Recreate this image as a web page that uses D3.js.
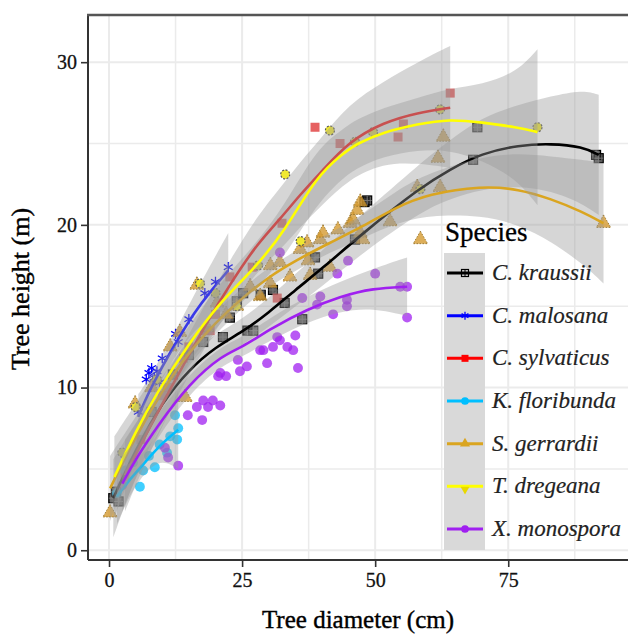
<!DOCTYPE html>
<html>
<head>
<meta charset="utf-8">
<script src="https://cdn.jsdelivr.net/npm/d3@7"></script>
<style>
  body { margin: 0; background: #fff; }
  svg { display: block; font-family: "Liberation Serif", "Times New Roman", serif; }
</style>
</head>
<body>
<svg id="chart" width="628" height="634"></svg>
<script>
// ---- data (diameter cm, height m) ----
var species = ["C. kraussii", "C. malosana", "C. sylvaticus", "K. floribunda", "S. gerrardii", "T. dregeana", "X. monospora"];

var xTicks = [0, 25, 50, 75];
var yTicks = [0, 10, 20, 30];
var xMinor = [12.5, 37.5, 62.5, 87.5];
var yMinor = [5, 15, 25];

var kraussiiPts = [[0.8, 3.2], [1.3, 3.6], [1.8, 3.0], [8, 8.5], [12, 10.8], [15, 12.0], [17.7, 12.8], [21.4, 13.1], [22.7, 14.3], [24, 15.3], [25.2, 15.8], [26, 13.5], [27.1, 13.5], [28.5, 15.7], [30.8, 16.0], [33, 15.2], [36.3, 14.2], [38.7, 18.0], [39.3, 17.0], [46.2, 19.1], [48, 21.4], [48.5, 21.5], [68.4, 24.0], [69.2, 26.0], [91.5, 24.3], [92, 24.1]];
var malosanaPts = [[5.5, 8.5], [7, 10.5], [7.5, 10.9], [8, 11.2], [8.5, 10.6], [9, 11.0], [9.5, 10.3], [10, 11.8], [12.5, 13.3], [13, 12.8], [15, 14.2], [18, 15.8], [20, 16.5], [22.4, 17.4]];
var sylvaticusPts = [[3, 4.5], [6, 6.8], [10, 9.5], [11, 10.0], [14, 11.8], [15, 12.5], [18, 13.5], [19, 13.5], [20, 14.5], [22.7, 16.8], [26.9, 17.4], [31.6, 15.5], [32.5, 20.1], [38.7, 26.0], [43.4, 25.0], [54.3, 25.4], [55.3, 26.2], [64.1, 28.1]];
var floribundaPts = [[1.5, 3.5], [3, 4.9], [4.5, 5.4], [5.8, 3.9], [6.4, 4.9], [7.5, 5.8], [8.6, 5.1], [9.5, 6.5], [10.9, 6.0], [11.5, 7.0], [12.4, 8.3], [12.8, 6.8], [13, 7.5]];
var gerrardiiPts = [[0.2, 2.3], [4.9, 9.0], [8, 10.0], [11.5, 12.5], [13.3, 13.4], [14.3, 9.4], [16.5, 16.3], [18.4, 13.7], [20.3, 15.2], [22, 14.5], [24, 15.0], [26.5, 16.2], [28.4, 15.6], [30.3, 17.5], [30.3, 16.4], [32.1, 17.7], [34, 16.8], [35.9, 18.5], [37.2, 18.9], [37.4, 17.8], [37.8, 16.9], [39.7, 19.1], [40.2, 19.5], [41.5, 17.4], [43, 19.7], [45.3, 20.1], [45.9, 20.3], [46.6, 20.9], [47.2, 19.5], [47.2, 21.4], [47.7, 19.1], [52.8, 20.2], [57.9, 22.3], [58.5, 19.1], [61.8, 24.1], [62.2, 22.3], [62.8, 25.4], [92.9, 20.1]];
var dregeanaPts = [[2.5, 6.0], [5, 8.8], [9, 10.5], [17.1, 16.4], [20, 15.8], [24, 15.0], [28, 17.5], [33.1, 23.1], [36, 19.0], [41.5, 25.8], [46.2, 25.1], [49.6, 25.7], [58.5, 22.2], [62.2, 27.1], [80.5, 26.0]];
var monosporaPts = [[2.5, 4.0], [10.5, 6.3], [11.1, 5.7], [13, 5.2], [14.8, 8.3], [16.5, 8.8], [17.5, 8.0], [17.7, 9.2], [18.6, 8.8], [19.5, 9.2], [20.9, 8.9], [20.5, 10.7], [20.9, 10.9], [22, 10.7], [24.2, 11.7], [24.6, 11.0], [25.9, 11.3], [28.4, 12.3], [29, 12.3], [29.7, 11.5], [30.8, 12.5], [31.6, 13.1], [32.1, 12.9], [32.1, 18.3], [33.5, 12.5], [34.6, 12.3], [35, 13.2], [35.5, 11.2], [36.3, 15.5], [39.1, 15.1], [39.7, 15.6], [42.1, 14.5], [42.9, 17.0], [44.7, 15.4], [44.7, 15.0], [44.9, 17.8], [50, 17.0], [54.7, 16.2], [56, 16.2], [56, 14.3]];

// smoother: [diameter, fit, lower, upper]
var kraussiiFit = [[0.8, 3.2, 0.8, 5.6], [5, 6.2, 4.6, 7.8], [10, 9.1, 8.0, 10.2], [15, 11.1, 10.2, 12.0], [20, 12.5, 11.7, 13.3], [25, 13.4, 12.6, 14.2], [30, 14.6, 13.7, 15.5], [35, 16.0, 15.0, 17.0], [40, 17.3, 16.2, 18.4], [47.7, 19.5, 18.3, 20.7], [58.5, 22.3, 20.8, 23.8], [64, 23.4, 21.6, 25.2], [70, 24.4, 22.2, 26.6], [77, 24.9, 22.4, 27.4], [83, 25.0, 22.1, 27.9], [89, 24.8, 21.3, 28.3], [92, 24.3, 20.6, 28.0]];
var malosanaFit = [[5.5, 8.2, 6.8, 9.6], [7, 9.4, 8.5, 10.3], [10, 11.3, 10.6, 12.0], [13, 13.0, 12.2, 13.8], [16, 14.6, 13.5, 15.7], [19, 15.9, 14.3, 17.5], [22.4, 17.2, 14.9, 19.5]];
var sylvaticusFit = [[3, 4.6, 2.4, 6.8], [8, 7.8, 6.3, 9.3], [13, 10.8, 9.6, 12.0], [18, 13.8, 12.5, 15.1], [23, 16.5, 15.0, 18.0], [28, 18.9, 17.2, 20.6], [32, 20.3, 18.4, 22.2], [36, 21.9, 19.9, 23.9], [40, 23.3, 21.2, 25.4], [45, 25.1, 22.8, 27.4], [51.5, 26.3, 23.8, 28.8], [58, 26.9, 23.8, 30.0], [64.1, 27.2, 23.5, 31.0]];
var floribundaFit = [[1.5, 3.3, 1.6, 5.0], [4, 4.4, 3.5, 5.3], [7, 5.5, 4.9, 6.1], [10, 6.6, 5.6, 7.6], [13, 7.4, 5.0, 9.8]];
var gerrardiiFit = [[0.2, 3.8, 1.8, 5.8], [5, 7.0, 5.8, 8.2], [10, 9.8, 8.9, 10.7], [15, 12.2, 11.4, 13.0], [20, 14.0, 13.3, 14.7], [25, 15.5, 14.9, 16.1], [30, 16.8, 16.2, 17.4], [35, 17.8, 17.2, 18.4], [41.5, 18.9, 18.3, 19.5], [47.7, 19.9, 19.2, 20.6], [54, 21.1, 20.1, 22.1], [60, 21.9, 20.6, 23.2], [70, 22.4, 20.6, 24.2], [77, 22.2, 20.0, 24.4], [83, 21.6, 19.0, 24.2], [89, 20.8, 17.6, 24.0], [92.9, 20.1, 16.4, 23.8]];
var dregeanaFit = [[1, 4.5, 2.0, 7.0], [5, 7.3, 5.6, 9.0], [9, 9.7, 8.4, 11.0], [15, 12.7, 11.6, 13.8], [21, 15.3, 14.1, 16.5], [27, 17.2, 15.8, 18.6], [33, 19.6, 18.0, 21.2], [39, 23.0, 21.3, 24.7], [44, 24.4, 22.9, 25.9], [46.6, 25.0, 23.5, 26.5], [51.5, 25.7, 24.2, 27.2], [58, 26.2, 24.6, 27.8], [64, 26.5, 24.6, 28.4], [70, 26.3, 24.0, 28.6], [76.7, 26.0, 22.8, 29.4], [80.5, 25.7, 21.2, 30.8]];
var monosporaFit = [[2.5, 4.1, 2.4, 5.8], [5, 5.6, 4.5, 6.7], [9, 7.6, 6.9, 8.3], [15.2, 10.3, 9.7, 10.9], [21.4, 12.0, 11.4, 12.6], [24.6, 12.4, 11.8, 13.0], [30.8, 13.7, 13.0, 14.4], [37.2, 14.8, 14.0, 15.6], [43.4, 15.6, 14.7, 16.5], [49.6, 16.1, 14.9, 17.3], [56, 16.2, 14.4, 18.0]];

var allPts = [kraussiiPts, malosanaPts, sylvaticusPts, floribundaPts, gerrardiiPts, dregeanaPts, monosporaPts];
var allFits = [kraussiiFit, malosanaFit, sylvaticusFit, floribundaFit, gerrardiiFit, dregeanaFit, monosporaFit];

// ---- styles ----
var keyColors = ["#000000", "#0000ff", "#ff0000", "#00bfff", "#daa520", "#ffff00", "#a020f0"];
var lineColors = ["#000000", "#3a3ae8", "#e82020", "#00bfff", "#daa520", "#ffff00", "#a020f0"];
var shapes = ["squarePlus", "asterisk", "square", "circle", "triangle", "ringed", "circle"];

var svg = d3.select("#chart");

var panel = { left: 88, right: 628, top: 15, bottom: 560 };

var xScale = d3.scaleLinear().domain([-3.95, 97.5]).range([panel.left, panel.right]);
var yScale = d3.scaleLinear().domain([-0.6, 32.9]).range([panel.bottom, panel.top]);

svg.append("clipPath").attr("id", "clip")
  .append("rect")
  .attr("x", panel.left).attr("y", panel.top)
  .attr("width", panel.right - panel.left).attr("height", panel.bottom - panel.top);

// grid
var grid = svg.append("g");
grid.selectAll(".gx").data(xMinor.concat(xTicks)).enter().append("line")
  .attr("x1", d => xScale(d)).attr("x2", d => xScale(d))
  .attr("y1", panel.top).attr("y2", panel.bottom)
  .attr("stroke", "#ebebeb").attr("stroke-width", d => xTicks.indexOf(d) > -1 ? 2 : 1.5);
grid.selectAll(".gy").data(yMinor.concat(yTicks)).enter().append("line")
  .attr("y1", d => yScale(d)).attr("y2", d => yScale(d))
  .attr("x1", panel.left).attr("x2", panel.right)
  .attr("stroke", "#ebebeb").attr("stroke-width", d => yTicks.indexOf(d) > -1 ? 2 : 1.5);

var plot = svg.append("g").attr("clip-path", "url(#clip)");

// marker drawing
function drawMarker(g, shape, i, size, legend) {
  var col = keyColors[i];
  if (shape == "circle") {
    g.append("circle").attr("r", size * 0.55)
      .attr("fill", col).attr("fill-opacity", legend ? 1 : 0.75);
  } else if (shape == "square") {
    g.append("rect").attr("x", -size * 0.5).attr("y", -size * 0.5)
      .attr("width", size).attr("height", size)
      .attr("fill", legend ? col : "#e03a3a").attr("fill-opacity", legend ? 1 : 0.8);
  } else if (shape == "squarePlus") {
    g.append("rect").attr("x", -size * 0.5).attr("y", -size * 0.5)
      .attr("width", size).attr("height", size)
      .attr("fill", legend ? "none" : "#222").attr("fill-opacity", 0.75)
      .attr("stroke", "#000").attr("stroke-width", 1.2);
    g.append("path").attr("d", "M" + (-size / 2) + ",0H" + size / 2 + "M0," + (-size / 2) + "V" + size / 2)
      .attr("stroke", legend ? "#000" : "#777").attr("stroke-width", 1);
  } else if (shape == "asterisk") {
    g.append("path").attr("d", d3.symbol(d3.symbolAsterisk, size * size * 0.9)())
      .attr("stroke", col).attr("stroke-width", 1.3).attr("fill", "none");
  } else if (shape == "triangle") {
    g.append("path").attr("d", d3.symbol(d3.symbolTriangle, size * size * 0.9)())
      .attr("fill", legend ? col : "#d49a30").attr("fill-opacity", legend ? 1 : 0.8)
      .attr("stroke", legend ? "none" : "#8a6a20").attr("stroke-width", 0.8).attr("stroke-dasharray", "1.5,1.5");
  } else if (shape == "ringed") {
    if (legend) {
      g.append("path").attr("d", d3.symbol(d3.symbolTriangle, size * size * 0.7)())
        .attr("transform", "rotate(180)").attr("fill", "#e8d800");
    } else {
      g.append("circle").attr("r", size * 0.5)
        .attr("fill", "#f0e830").attr("stroke", "#555").attr("stroke-width", 1.2)
        .attr("stroke-dasharray", "2,1.5");
    }
  }
}

// points first
allPts.forEach((pts, i) => {
  plot.append("g").selectAll("g").data(pts).enter().append("g")
    .attr("transform", d => "translate(" + xScale(d[0]) + "," + yScale(d[1]) + ")")
    .each(function () { drawMarker(d3.select(this), shapes[i], i, shapes[i] == "triangle" ? 10 : 9, false); });
});

// smoothers: ribbon then line, species by species
var area = d3.area().curve(d3.curveBasis)
  .x(d => xScale(d[0])).y0(d => yScale(d[2])).y1(d => yScale(d[3]));
var line = d3.line().curve(d3.curveBasis)
  .x(d => xScale(d[0])).y(d => yScale(d[1]));

allFits.forEach((fit, i) => {
  plot.append("path").attr("d", area(fit))
    .attr("fill", "#999999").attr("fill-opacity", 0.4);
  plot.append("path").attr("d", line(fit))
    .attr("fill", "none").attr("stroke", lineColors[i]).attr("stroke-width", 2.6);
});

// axes
var xAxis = d3.axisBottom(xScale).tickValues(xTicks).tickSize(7).tickFormat(d3.format("d"));
var yAxis = d3.axisLeft(yScale).tickValues(yTicks).tickSize(7).tickFormat(d3.format("d"));

var gx = svg.append("g").attr("transform", "translate(0," + panel.bottom + ")").call(xAxis);
var gy = svg.append("g").attr("transform", "translate(" + panel.left + ",0)").call(yAxis);
gx.select(".domain").remove();
gy.select(".domain").remove();
[gx, gy].forEach(g => {
  g.selectAll(".tick line").attr("stroke", "#333").attr("stroke-width", 1.6);
  g.selectAll(".tick text").attr("fill", "#111").style("font-size", "20px")
    .style("font-family", "'Liberation Serif', serif")
    .attr("stroke", "#111").attr("stroke-width", 0.3);
});
gx.selectAll(".tick text").attr("dy", "0.9em").attr("y", 9);
gy.selectAll(".tick text").attr("x", -11);

svg.append("line").attr("x1", panel.left).attr("x2", panel.right)
  .attr("y1", panel.bottom).attr("y2", panel.bottom)
  .attr("stroke", "#333").attr("stroke-width", 2);
svg.append("line").attr("x1", panel.left).attr("x2", panel.left)
  .attr("y1", panel.top).attr("y2", panel.bottom)
  .attr("stroke", "#333").attr("stroke-width", 2);
svg.append("line").attr("x1", panel.left - 1).attr("x2", panel.right)
  .attr("y1", panel.top).attr("y2", panel.top)
  .attr("stroke", "#555").attr("stroke-width", 2.5);

// axis titles
svg.append("text").text("Tree diameter (cm)")
  .attr("x", 358).attr("y", 628)
  .attr("text-anchor", "middle").style("font-size", "25px")
  .attr("fill", "#000").attr("stroke", "#000").attr("stroke-width", 0.4);
svg.append("text").text("Tree height (m)")
  .attr("transform", "translate(29,289) rotate(-90)")
  .attr("text-anchor", "middle").style("font-size", "26px")
  .attr("fill", "#000").attr("stroke", "#000").attr("stroke-width", 0.4);

// legend
var legend = svg.append("g");
legend.append("text").text("Species")
  .attr("x", 445).attr("y", 241).style("font-size", "27px")
  .attr("fill", "#000").attr("stroke", "#000").attr("stroke-width", 0.3);
legend.append("rect").attr("x", 444).attr("y", 253).attr("width", 41).attr("height", 297)
  .attr("fill", "#d9d9d9");

var rowY = d3.scaleLinear().domain([0, 6]).range([273, 529]);
species.forEach((s, i) => {
  var row = legend.append("g").attr("transform", "translate(0," + rowY(i) + ")");
  row.append("line").attr("x1", 447).attr("x2", 483).attr("y1", 0).attr("y2", 0)
    .attr("stroke", keyColors[i]).attr("stroke-width", 3);
  var m = row.append("g").attr("transform", "translate(465," + (shapes[i] == "ringed" ? 3 : 0) + ")");
  drawMarker(m, shapes[i], i, 7, true);
  row.append("text").text(s)
    .attr("x", 492).attr("y", 7)
    .style("font-size", "23px").style("font-style", "italic")
    .attr("fill", "#222").attr("stroke", "#222").attr("stroke-width", 0.2);
});
</script>
</body>
</html>
